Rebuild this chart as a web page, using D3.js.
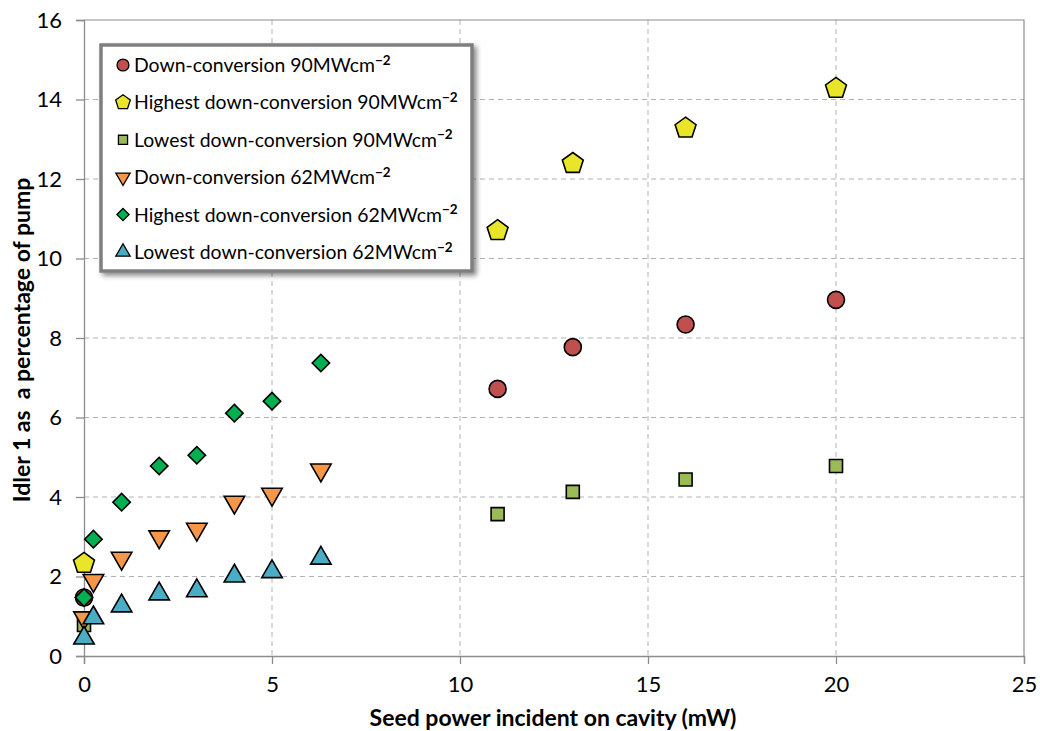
<!DOCTYPE html>
<html>
<head>
<meta charset="utf-8">
<script src="https://cdn.jsdelivr.net/npm/d3@7"></script>
<style>
  html, body { margin: 0; padding: 0; background: #fff; }
  svg { display: block; font-family: Lato, "Open Sans", sans-serif; }
</style>
</head>
<body>
<svg id="chart" width="1040" height="731"></svg>
<script>
// Seed power (mW) for the 90 MW/cm² and 62 MW/cm² pump runs
const seed90 = [0, 11, 13, 16, 20];
const seed62 = [0, 0.25, 1, 2, 3, 4, 5, 6.3];

// Idler 1 as a percentage of pump
const down90    = [1.47, 6.72, 7.77, 8.34, 8.96];
const high90    = [2.33, 10.7, 12.39, 13.28, 14.28];
const low90     = [0.78, 3.57, 4.13, 4.44, 4.78];
const down62    = [0.96, 1.9, 2.46, 3.0, 3.19, 3.87, 4.07, 4.68];
const high62    = [1.47, 2.94, 3.87, 4.78, 5.05, 6.11, 6.41, 7.37];
const low62     = [0.45, 0.96, 1.26, 1.56, 1.64, 2.01, 2.12, 2.46];

const seriesNames = [
  "Down-conversion 90MWcm",
  "Highest down-conversion 90MWcm",
  "Lowest down-conversion 90MWcm",
  "Down-conversion 62MWcm",
  "Highest down-conversion 62MWcm",
  "Lowest down-conversion 62MWcm"
];
const xTicks = [0, 5, 10, 15, 20, 25];
const yTicks = [0, 2, 4, 6, 8, 10, 12, 14, 16];

const series = [
  { name: seriesNames[0], xs: seed90, ys: down90, shape: "circle",   fill: "#c0504d" },
  { name: seriesNames[1], xs: seed90, ys: high90, shape: "pentagon", fill: "#e9e62a" },
  { name: seriesNames[2], xs: seed90, ys: low90,  shape: "square",   fill: "#9bbb59" },
  { name: seriesNames[3], xs: seed62, ys: down62, shape: "tridown",  fill: "#f79646" },
  { name: seriesNames[4], xs: seed62, ys: high62, shape: "diamond",  fill: "#00b050" },
  { name: seriesNames[5], xs: seed62, ys: low62,  shape: "triup",    fill: "#4bacc6" }
];

const svg = d3.select("#chart");
const plotL = 84, plotR = 1024, plotT = 20, plotB = 656;

const x = d3.scaleLinear().domain([0, 25]).range([plotL, plotR]);
const y = d3.scaleLinear().domain([0, 16]).range([plotB, plotT]);

// Marker shapes, sized by a scale factor k
function pentagonPath(r) {
  const pts = d3.range(5).map(i => {
    const a = -Math.PI / 2 + i * 2 * Math.PI / 5;
    return [r * Math.cos(a), r * Math.sin(a)];
  });
  return "M" + pts.map(p => p.join(",")).join("L") + "Z";
}
function markerPath(shape, k) {
  switch (shape) {
    case "circle":   return d3.symbol(d3.symbolCircle, Math.PI * (8.5 * k) ** 2)();
    case "square":   return d3.symbol(d3.symbolSquare, (13 * k) ** 2)();
    case "diamond":  return d3.symbol(d3.symbolSquare, (12.3 * k) ** 2)();
    case "tridown":
    case "triup":    return d3.symbol(d3.symbolTriangle, 0.433 * (20.5 * k) ** 2)();
    case "pentagon": return pentagonPath(11 * k);
  }
}
function markerRotate(shape) {
  if (shape === "diamond") return 45;
  if (shape === "tridown") return 180;
  return 0;
}

// Drop shadow for the legend box
const defs = svg.append("defs");
const f = defs.append("filter").attr("id", "legendShadow")
  .attr("x", "-10%").attr("y", "-10%").attr("width", "125%").attr("height", "125%");
f.append("feDropShadow").attr("dx", 3).attr("dy", 3).attr("stdDeviation", 2.5)
  .attr("flood-color", "#000").attr("flood-opacity", 0.45);

// Grid lines
const grid = svg.append("g");
grid.selectAll("line.v").data(xTicks.filter(d => d > 0 && d < 25)).join("line")
  .attr("class", "v")
  .attr("x1", d => x(d)).attr("x2", d => x(d)).attr("y1", plotT).attr("y2", plotB)
  .attr("stroke", "#b3b3b3").attr("stroke-width", 1).attr("stroke-dasharray", "5,4");
grid.selectAll("line.h").data(yTicks.filter(d => d > 0 && d < 16)).join("line")
  .attr("class", "h")
  .attr("x1", plotL).attr("x2", plotR).attr("y1", d => y(d)).attr("y2", d => y(d))
  .attr("stroke", "#b3b3b3").attr("stroke-width", 1).attr("stroke-dasharray", "5,4");

// Plot area frame (top and right)
svg.append("path")
  .attr("d", `M${plotL},${plotT}H${plotR}V${plotB}`)
  .attr("fill", "none").attr("stroke", "#8c8c8c").attr("stroke-width", 1.2);

// Axes
const xAxis = svg.append("g").attr("transform", `translate(0,${plotB})`)
  .call(d3.axisBottom(x).tickValues(xTicks).tickSize(8).tickPadding(12).tickFormat(d3.format("d")));
const yAxis = svg.append("g").attr("transform", `translate(${plotL},0)`)
  .call(d3.axisLeft(y).tickValues(yTicks).tickSize(8).tickPadding(14).tickFormat(d3.format("d")));
[xAxis, yAxis].forEach(g => {
  g.select(".domain").attr("stroke", "#8c8c8c").attr("stroke-width", 1.3);
  g.selectAll(".tick line").attr("stroke", "#8c8c8c").attr("stroke-width", 1.3);
  g.selectAll(".tick text").attr("fill", "#000").style("font-size", "22px")
    .style("font-family", "Lato, 'Open Sans', sans-serif");
});

// Axis titles
svg.append("text")
  .attr("x", 553).attr("y", 726).attr("text-anchor", "middle")
  .style("font-size", "23px").style("font-weight", "bold")
  .text("Seed power incident on cavity (mW)");
svg.append("text")
  .attr("transform", "translate(30,340) rotate(-90)")
  .attr("text-anchor", "middle").attr("xml:space", "preserve")
  .style("font-size", "23px").style("font-weight", "bold")
  .text("Idler 1 as  a percentage of pump");

// Data points
series.forEach(s => {
  svg.append("g").selectAll("path").data(s.xs.map((v, i) => [v, s.ys[i]])).join("path")
    .attr("d", markerPath(s.shape, 1))
    .attr("transform", d => `translate(${x(d[0])},${y(d[1])}) rotate(${markerRotate(s.shape)})`)
    .attr("fill", s.fill).attr("stroke", "#000").attr("stroke-width", 1.6);
});

// Legend
const lg = svg.append("g");
lg.append("rect")
  .attr("x", 101).attr("y", 45).attr("width", 371).attr("height", 226)
  .attr("fill", "#fff").attr("stroke", "#7f7f7f").attr("stroke-width", 3.5)
  .attr("filter", "url(#legendShadow)");
const rowY = d3.scaleLinear().domain([0, 5]).range([65, 252]);
series.forEach((s, i) => {
  const row = lg.append("g").attr("transform", `translate(0,${rowY(i)})`);
  row.append("path")
    .attr("d", markerPath(s.shape, 0.7))
    .attr("transform", `translate(123,0) rotate(${markerRotate(s.shape)})`)
    .attr("fill", s.fill).attr("stroke", "#000").attr("stroke-width", 1.3);
  const t = row.append("text").attr("x", 134).attr("y", 7).style("font-size", "19.4px");
  t.append("tspan").text(s.name);
  t.append("tspan").attr("dy", -7.5).style("font-size", "13.5px").style("font-weight", "bold")
    .text("\u22122");
});
</script>
</body>
</html>
